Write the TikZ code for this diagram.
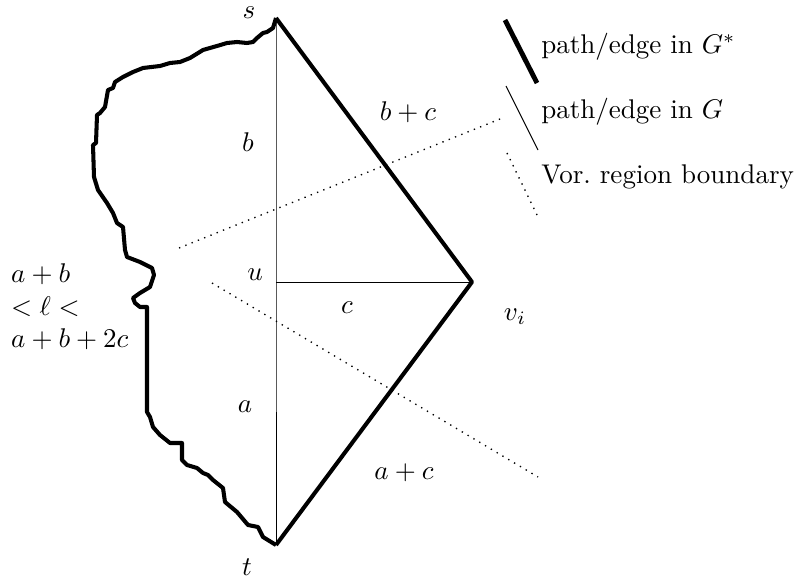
\documentclass[tikz,border=0pt]{standalone}
\usepackage{amsmath,amssymb}
\usepackage{tikz}
\usetikzlibrary{positioning,calc}
\tikzset{
  gcs/.style={line width=1.5pt,line join=round},
  gel/.style={line width=0.35pt},
  vor/.style={dotted,line width=0.5pt},
  cim/.style={inner sep=1pt},
}

\begin{document}
\begin{tikzpicture}[x=0.013cm,y=-0.013cm]
  \useasboundingbox (0,0) rectangle (794,581);
  % vertices
  \coordinate (s) at (276,18);
  \coordinate (t) at (276,545);
  \coordinate (u) at (276,282);
  \coordinate (vi) at (472,282);
  \node[cim] (ls) at (249,13) {$s$};
  \node[cim] (lt) at (247,567) {$t$};
  \node[cim] (lu) at (255,275) {$u$};
  \node[cim] (lvi) at (515,317) {$v_i$};
  % edges in G
  \draw[gel] (s) -- (u) -- (t);
  \draw[gel] (u) -- (vi);
  % edges in G*
  \draw[gcs] (s) -- (vi) -- (t);
  \draw[gcs] (s) -- (273,28) -- (267,32) -- (263,33) -- (257,38) -- (253,42)
    -- (247,43) -- (237,42) -- (227,43) -- (217,46) -- (203,50) -- (190,58)
    -- (180,62) -- (170,63) -- (160,66) -- (143,68) -- (133,72) -- (123,77)
    -- (115,82) -- (113,88) -- (108,90) -- (105,107) -- (100,113) -- (97,115)
    -- (96,143) -- (93,145) -- (94,177) -- (98,190) -- (107,203) -- (113,213)
    -- (117,223) -- (123,227) -- (125,250) -- (127,257) -- (140,262)
    -- (152,268) -- (154,275) -- (150,287) -- (140,293) -- (133,298)
    -- (135,303) -- (140,307) -- (147,307) -- (147,412) -- (150,417)
    -- (153,427) -- (160,435) -- (170,443) -- (182,443) -- (182,460)
    -- (187,465) -- (197,468) -- (203,473) -- (208,475) -- (213,480)
    -- (223,488) -- (225,502) -- (237,512) -- (248,525) -- (258,527)
    -- (263,537) -- (t);
  % Voronoi boundaries
  \coordinate (v1a) at (179,248);
  \coordinate (v1b) at (505,117);
  \coordinate (v2a) at (212,283);
  \coordinate (v2b) at (538,477);
  \draw[vor] (v1a) -- (v1b);
  \draw[vor] (v2a) -- (v2b);
  % lengths
  \node[cim] (lb) at (248,142) {$b$};
  \node[cim] (la) at (245,407) {$a$};
  \node[cim] (lc) at (347,308) {$c$};
  \node[cim] (lbc) at (408,112) {$b+c$};
  \node[cim] (lac) at (404,473) {$a+c$};
  \node[cim,align=left,anchor=west] (ll) at (8,307) {$a+b$\\$<\ell<$\\$a+b+2c$};
  % legend
  \coordinate (k1a) at (505,20);  \coordinate (k1b) at (537,83);
  \coordinate (k2a) at (506,86);  \coordinate (k2b) at (538,150);
  \coordinate (k3a) at (507,153); \coordinate (k3b) at (538,217);
  \draw[gcs,line width=1.8pt] (k1a) -- (k1b);
  \draw[gel] (k2a) -- (k2b);
  \draw[vor] (k3a) -- (k3b);
  \node[cim,anchor=west] (t1) at (538,47) {path/edge in $G^*$};
  \node[cim,anchor=west] (t2) at (538,112) {path/edge in $G$};
  \node[cim,anchor=west] (t3) at (538,177) {Vor.\ region boundary};
\end{tikzpicture}
\end{document}
